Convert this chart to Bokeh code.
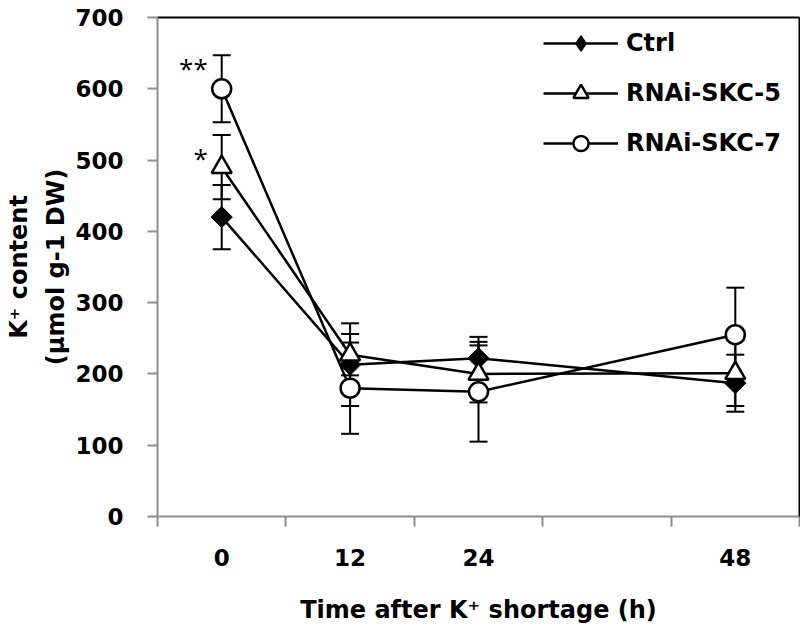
import numpy as np
from bokeh.plotting import figure
from bokeh.models import (Range1d, FixedTicker, LinearAxis, Whisker, TeeHead,
                          ColumnDataSource, Legend, LegendItem)
from bokeh.core.properties import value
from bokeh.embed import file_html
from bokeh.resources import INLINE

# ---- data ----
time_h = [0, 12, 24, 48]
ctrl = [420, 213, 222, 187]
ctrl_se = [45, 58, 30, 40]
rnai5 = [490, 227, 200, 201]
rnai5_se = [45, 29, 40, 46]
rnai7 = [600, 180, 175, 255]
rnai7_se = [47, 64, 70, 66]
series_names = ["Ctrl", "RNAi-SKC-5", "RNAi-SKC-7"]
x_tick_labels = ["0", "12", "24", "48"]
x_boundaries = [-6, 6, 18, 30, 42, 54]
y_ticks = [0, 100, 200, 300, 400, 500, 600, 700]
y_title_lines = ["K\u207a content", "(\u00b5mol g-1 DW)"]
x_title = "Time after K\u207a shortage (h)"
sig_time = [0, 0]
sig_value = [629, 503]
sig_text = ["**", "*"]

FONT = "DejaVu Sans"
AXIS_GRAY = "#8c8c8c"

p = figure(width=800, height=629, output_backend="svg", toolbar_location=None,
           x_range=Range1d(-6, 54), y_range=Range1d(0, 700),
           min_border_left=157, min_border_right=1, min_border_top=17,
           min_border_bottom=113)
p.outline_line_color = None
p.grid.visible = False
p.background_fill_color = "white"

# x axis
xa = p.xaxis[0]
xa.ticker = FixedTicker(ticks=time_h, minor_ticks=x_boundaries)
xa.major_label_overrides = {t: l for t, l in zip(time_h, x_tick_labels)}
xa.axis_line_color = AXIS_GRAY
xa.axis_line_width = 2
xa.major_tick_line_color = None
xa.major_tick_out = 10
xa.major_tick_in = 0
xa.minor_tick_line_color = AXIS_GRAY
xa.minor_tick_line_width = 2
xa.minor_tick_out = 10
xa.minor_tick_in = 0
xa.major_label_standoff = 22
xa.major_label_text_font = FONT
xa.major_label_text_font_style = "bold"
xa.major_label_text_font_size = "23px"
xa.major_label_text_color = "black"
xa.axis_label = x_title
xa.axis_label_text_font = FONT
xa.axis_label_text_font_style = "bold"
xa.axis_label_text_font_size = "24px"
xa.axis_label_text_color = "black"
xa.axis_label_standoff = 27

# y axis (inner: ticks, labels and second title line)
ya = p.yaxis[0]
ya.ticker = FixedTicker(ticks=y_ticks)
ya.axis_line_color = AXIS_GRAY
ya.axis_line_width = 2
ya.major_tick_line_color = AXIS_GRAY
ya.major_tick_line_width = 2
ya.major_tick_out = 10
ya.major_tick_in = 0
ya.minor_tick_line_color = None
ya.major_label_standoff = 24
ya.major_label_text_font = FONT
ya.major_label_text_font_style = "bold"
ya.major_label_text_font_size = "23px"
ya.major_label_text_color = "black"
ya.axis_label = y_title_lines[1]
ya.axis_label_text_font = FONT
ya.axis_label_text_font_style = "bold"
ya.axis_label_text_font_size = "24px"
ya.axis_label_text_color = "black"
ya.axis_label_standoff = 2

# outer left axis carrying only the first title line
ya2 = LinearAxis(ticker=FixedTicker(ticks=[]), axis_line_color=None,
                 major_tick_line_color=None, minor_tick_line_color=None,
                 major_tick_out=0, major_tick_in=0, minor_tick_out=0,
                 minor_tick_in=0, major_label_standoff=0,
                 major_label_text_font_size="0px",
                 axis_label=y_title_lines[0], axis_label_standoff=7,
                 axis_label_text_font=FONT, axis_label_text_font_style="bold",
                 axis_label_text_font_size="24px",
                 axis_label_text_color="black")
p.add_layout(ya2, "left")

# top and right black borders
top = LinearAxis(ticker=FixedTicker(ticks=[]), axis_line_color="black",
                 axis_line_width=2, major_label_text_font_size="0px",
                 major_tick_line_color=None, minor_tick_line_color=None)
right = LinearAxis(ticker=FixedTicker(ticks=[]), axis_line_color="black",
                   axis_line_width=2, major_label_text_font_size="0px",
                   major_tick_line_color=None, minor_tick_line_color=None)
p.add_layout(top, "above")
p.add_layout(right, "right")

means = [ctrl, rnai5, rnai7]
ses = [ctrl_se, rnai5_se, rnai7_se]

# error bars
for m, s in zip(means, ses):
    src = ColumnDataSource(dict(x=time_h,
                                lo=[a - b for a, b in zip(m, s)],
                                hi=[a + b for a, b in zip(m, s)]))
    w = Whisker(source=src, base="x", upper="hi", lower="lo",
                line_color="black", line_width=2, level="underlay",
                upper_head=TeeHead(size=18, line_color="black", line_width=2),
                lower_head=TeeHead(size=18, line_color="black", line_width=2))
    p.add_layout(w)

# Ctrl
l0 = p.line(time_h, ctrl, line_color="black", line_width=2.5)
m0 = p.scatter(time_h, ctrl, marker="square", size=15, angle=np.pi / 4,
               fill_color="black", line_color="black", line_width=1)
# legend-only diamond (legend cannot rotate markers)
m0_leg = p.scatter(time_h, ctrl, marker="diamond", size=15,
                   fill_color="black", line_color="black", line_width=1.5,
                   visible=False)
# RNAi-SKC-5
l1 = p.line(time_h, rnai5, line_color="black", line_width=2.5)
m1 = p.scatter(time_h, rnai5, marker="triangle", size=20,
               fill_color="white", line_color="black", line_width=2.5)
# RNAi-SKC-7
l2 = p.line(time_h, rnai7, line_color="black", line_width=2.5)
m2 = p.scatter(time_h, rnai7, marker="circle", size=19,
               fill_color="white", line_color="black", line_width=2.5)

items = [LegendItem(label=n, renderers=rs) for n, rs in
         zip(series_names, [[l0, m0_leg], [l1, m1], [l2, m2]])]

legend = Legend(items=items, location=(386, 354), margin=0, padding=0,
                border_line_color=None, background_fill_alpha=0,
                glyph_width=75, glyph_height=38, label_height=38,
                spacing=12, label_standoff=8,
                label_text_font=FONT, label_text_font_style="bold",
                label_text_font_size="24px", label_text_color="black",
                label_text_baseline="middle")
p.add_layout(legend)

# significance marks
p.text(x=sig_time, y=sig_value, text=sig_text, x_offset=-14, y_offset=0,
       text_align="right", text_baseline="middle",
       text_font=value("Open Sans"), text_font_size="26px", text_color="black")

open("out.html", "w").write(file_html(p, INLINE))
